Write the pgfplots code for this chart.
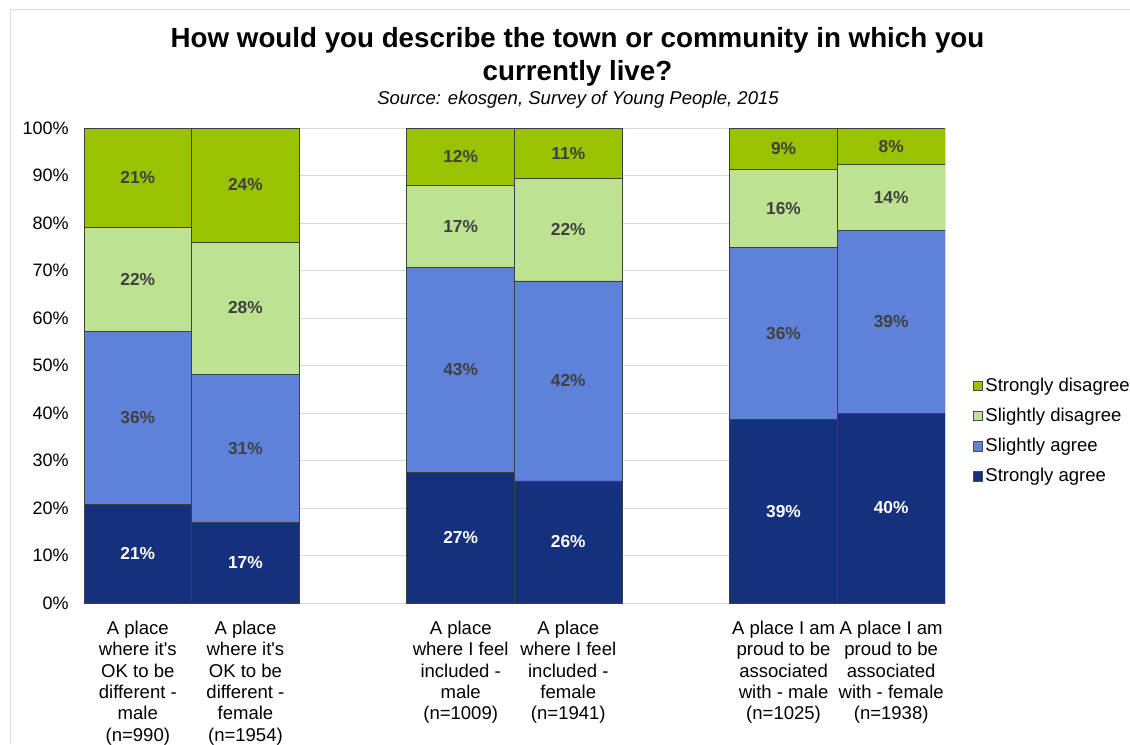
\documentclass[border=0pt]{standalone}
\usepackage{pgfplots}
\pgfplotsset{compat=1.18}
\usepackage{pgfplotstable}
\usepackage{fontspec}
\setmainfont{Liberation Sans}
\definecolor{sdC}{HTML}{99C200}
\definecolor{sldC}{HTML}{BCE292}
\definecolor{slaC}{HTML}{5E82D9}
\definecolor{saC}{HTML}{15307D}
\definecolor{lab}{HTML}{404040}
\definecolor{gridc}{HTML}{D9D9D9}

\pgfplotstableread{
x sa saL sla slaL sld sldL sd sdL
0 20.7 21 36.5 36 21.8 22 21.0 21
1 17.0 17 31.2 31 27.8 28 24.0 24
3 27.4 27 43.3 43 17.3 17 12.0 12
4 25.7 26 42.1 42 21.5 22 10.7 11
6 38.7 39 36.2 36 16.3 16 8.8 9
7 40.0 40 38.5 39 13.9 14 7.6 8
}\data

\pgfplotsset{
  lbl/.style={
    point meta=\thisrow{#1L},
    nodes near coords={\pgfmathprintnumber{\pgfplotspointmeta}\%},
    every node near coord/.append style={anchor=center,
      font=\bfseries\fontsize{13}{15}\selectfont, text=lab},
  }
}

\begin{document}
\begin{tikzpicture}[x=0.75pt,y=0.75pt]
\path[use as bounding box] (0,0) rectangle (1130,744);
\draw[gridc, line width=0.75pt] (10,0) -- (10,734) -- (1130,734);
\node[anchor=base, font=\bfseries\fontsize{20.8}{25}\selectfont] at (577.5,696) {How would you describe the town or community in which you};
\node[anchor=base, font=\bfseries\fontsize{20.8}{25}\selectfont] at (577.5,663) {currently live?};
\node[anchor=base, font=\itshape\fontsize{13.9}{16}\selectfont] at (578,639) {Source: ekosgen, Survey of Young People, 2015};
\begin{axis}[
  at={(63pt,105.75pt)}, anchor=south west,
  scale only axis, width=645.75pt, height=356.25pt,
  ybar stacked, bar width=1,
  ymin=0, ymax=100, xmin=-0.5, xmax=7.5,
  enlargelimits=false,
  ytick={0,10,...,100},
  yticklabel={\pgfmathprintnumber{\tick}\%},
  /pgf/number format/assume math mode=true,
  yticklabel style={font=\fontsize{13.5}{16}\selectfont, xshift=-8pt},
  ymajorgrids, grid style={gridc, line width=0.75pt},
  axis line style={draw=none},
  major tick length=0pt,
  xtick={0,1,3,4,6,7},
  xticklabels={
    {A place\\where it\textquotesingle s\\OK to be\\different -\\male\\(n=990)},
    {A place\\where it\textquotesingle s\\OK to be\\different -\\female\\(n=1954)},
    {A place\\where I feel\\included -\\male\\(n=1009)},
    {A place\\where I feel\\included -\\female\\(n=1941)},
    {A place I am\\proud to be\\associated\\with - male\\(n=1025)},
    {A place I am\\proud to be\\associated\\with - female\\(n=1938)}},
  xticklabel style={align=center, font=\fontsize{13.9}{16}\selectfont, yshift=-10pt},
  legend style={at={(1.027,0.362)}, anchor=west, draw=none, fill=none,
    font=\fontsize{13.9}{16}\selectfont, row sep=7pt},
  legend cell align=left,
  reverse legend,
  legend image code/.code={\draw[#1, draw=black!70, line width=0.5pt] (0pt,-3.6pt) rectangle (7.2pt,3.6pt);},
  every axis plot/.append style={draw=black!75, line width=0.6pt},
]
\addplot[fill=saC, lbl=sa, every node near coord/.append style={text=white}] table[x=x, y=sa] {\data};
\addlegendentry{Strongly agree}
\addplot[fill=slaC, lbl=sla] table[x=x, y=sla] {\data};
\addlegendentry{Slightly agree}
\addplot[fill=sldC, lbl=sld] table[x=x, y=sld] {\data};
\addlegendentry{Slightly disagree}
\addplot[fill=sdC, lbl=sd] table[x=x, y=sd] {\data};
\addlegendentry{Strongly disagree}
\end{axis}
\end{tikzpicture}
\end{document}
